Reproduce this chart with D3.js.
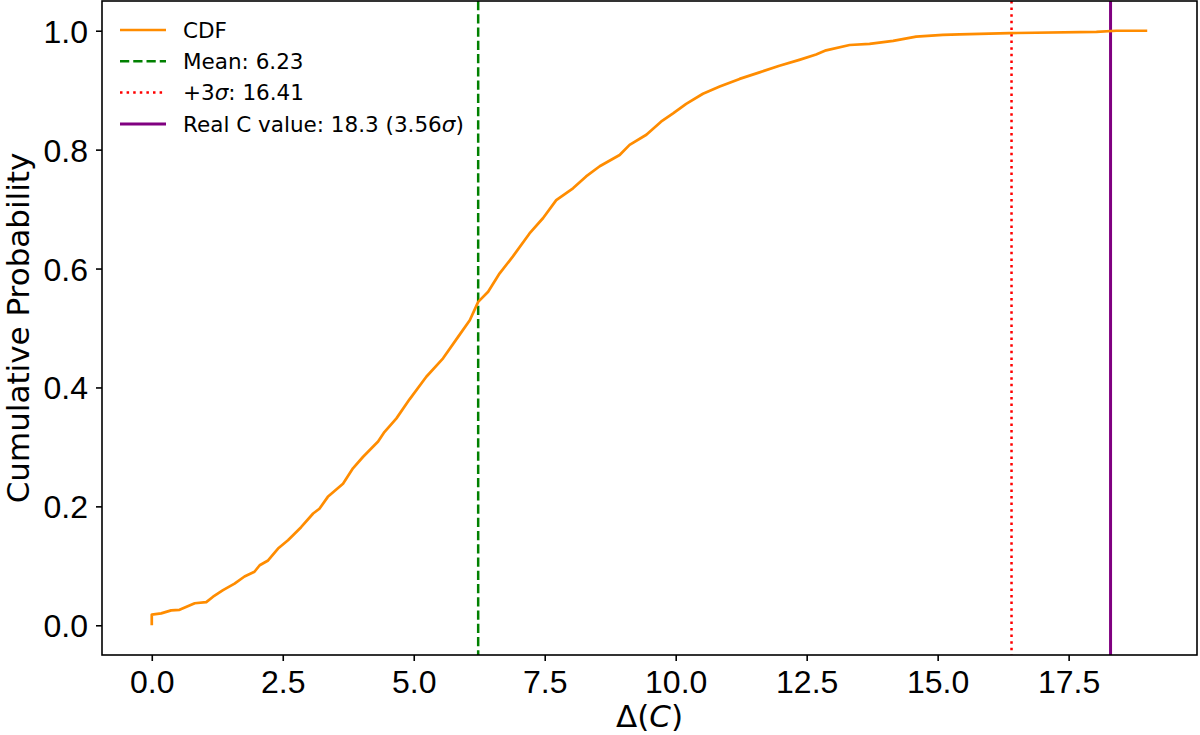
<!DOCTYPE html>
<html>
<head>
<meta charset="utf-8">
<script src="https://cdn.jsdelivr.net/npm/d3@7"></script>
<style>
  body { margin: 0; background: #fff; }
  svg { display: block; font-family: "DejaVu Sans", sans-serif; }
  .axis text { font-size: 32px; fill: #000; }
  .axis path, .axis line { stroke: #000; stroke-width: 1.6; }
  .legendText { font-size: 21.5px; fill: #000; }
</style>
</head>
<body>
<div id="chart"></div>
<script>
const cdfX = [0, 0, 0.18, 0.37, 0.53, 0.82, 1.04, 1.17, 1.36, 1.58, 1.77, 1.96, 2.06, 2.22, 2.41, 2.60,
  2.85, 3.08, 3.20, 3.36, 3.65, 3.84, 4.03, 4.32, 4.44, 4.67, 4.92, 5.24, 5.56, 5.87, 6.07, 6.23,
  6.42, 6.64, 6.89, 7.21, 7.47, 7.72, 8.04, 8.29, 8.55, 8.93, 9.12, 9.44, 9.72, 9.95, 10.20, 10.52,
  10.84, 11.22, 11.60, 11.98, 12.36, 12.68, 12.87, 13.32, 13.70, 14.15, 14.59, 15.10, 15.42, 16.37,
  18.03, 18.41, 19.0];
const cdfY = [0, 0.018, 0.020, 0.025, 0.026, 0.037, 0.039, 0.048, 0.059, 0.070, 0.082, 0.090, 0.101, 0.109, 0.129, 0.143,
  0.165, 0.188, 0.196, 0.216, 0.238, 0.264, 0.283, 0.309, 0.325, 0.348, 0.380, 0.418, 0.449, 0.488, 0.513, 0.544,
  0.561, 0.592, 0.620, 0.659, 0.685, 0.715, 0.735, 0.755, 0.772, 0.791, 0.808, 0.825, 0.847, 0.861, 0.877, 0.894,
  0.906, 0.919, 0.930, 0.941, 0.951, 0.960, 0.967, 0.976, 0.978, 0.983, 0.990, 0.993, 0.994, 0.996,
  0.998, 1.0, 1.0];

const meanValue = 6.23;
const sigma3Value = 16.41;
const realCValue = 18.3;
const realCSigma = 3.56;

const xTicks = [0, 2.5, 5, 7.5, 10, 12.5, 15, 17.5];
const yTicks = [0, 0.2, 0.4, 0.6, 0.8, 1.0];

const W = 1200, H = 735;
const margin = {top: 1, right: 3, bottom: 80, left: 102},
      width = W - margin.left - margin.right,
      height = H - margin.top - margin.bottom;

const svg = d3.select('#chart').append('svg')
    .attr('width', W)
    .attr('height', H);

const g = svg.append('g')
    .attr('transform', `translate(${margin.left},${margin.top})`);

// matplotlib style 5% margins
const xMin = d3.min(cdfX), xMax = d3.max(cdfX);
const xPad = (xMax - xMin) * 0.05;
const xScale = d3.scaleLinear()
    .domain([xMin - xPad, xMax + xPad])
    .range([0, width]);
const yScale = d3.scaleLinear()
    .domain([-0.05, 1.05])
    .range([height, 0]);

const xAxis = d3.axisBottom(xScale)
    .tickValues(xTicks)
    .tickFormat(d3.format('.1f'))
    .tickSizeInner(6).tickSizeOuter(0).tickPadding(9);
const yAxis = d3.axisLeft(yScale)
    .tickValues(yTicks)
    .tickFormat(d3.format('.1f'))
    .tickSizeInner(6).tickSizeOuter(0).tickPadding(8);

g.append('g')
    .attr('class', 'axis axis--x')
    .attr('transform', `translate(0,${height})`)
    .call(xAxis)
    .call(a => a.select('.domain').remove());

g.append('g')
    .attr('class', 'axis axis--y')
    .call(yAxis)
    .call(a => a.select('.domain').remove())
    .selectAll('text').attr('dy', '0.36em');

// vertical reference lines
g.append('line')
    .attr('x1', xScale(meanValue)).attr('x2', xScale(meanValue))
    .attr('y1', 0).attr('y2', height)
    .attr('stroke', '#008000').attr('stroke-width', 2.5)
    .attr('stroke-dasharray', '9.25,4');

g.append('line')
    .attr('x1', xScale(sigma3Value)).attr('x2', xScale(sigma3Value))
    .attr('y1', 0).attr('y2', height)
    .attr('stroke', '#ff0000').attr('stroke-width', 2.5)
    .attr('stroke-dasharray', '2.5,4.1');

g.append('line')
    .attr('x1', xScale(realCValue)).attr('x2', xScale(realCValue))
    .attr('y1', 0).attr('y2', height)
    .attr('stroke', '#800080').attr('stroke-width', 3);

// CDF curve
const cdfData = cdfX.map((x, i) => ({x: x, y: cdfY[i]}));
const line = d3.line()
    .x(d => xScale(d.x))
    .y(d => yScale(d.y));

g.append('path')
    .datum(cdfData)
    .attr('d', line)
    .attr('fill', 'none')
    .attr('stroke', '#ff8c00')
    .attr('stroke-width', 2.7)
    .attr('stroke-linejoin', 'round');

// frame
g.append('rect')
    .attr('width', width).attr('height', height)
    .attr('fill', 'none')
    .attr('stroke', '#000').attr('stroke-width', 1.6);

// axis labels
const xLabel = svg.append('text')
    .attr('x', margin.left + width / 2)
    .attr('y', 727)
    .attr('text-anchor', 'middle')
    .attr('font-size', '31px');
xLabel.append('tspan').text('Δ(');
xLabel.append('tspan').attr('font-style', 'italic').text('C');
xLabel.append('tspan').text(')');

svg.append('text')
    .attr('transform', `translate(29,${margin.top + height / 2}) rotate(-90)`)
    .attr('text-anchor', 'middle')
    .attr('font-size', '31px')
    .text('Cumulative Probability');

// legend
const legendItems = [
  {color: '#ff8c00', dash: null, width: 2.7, parts: [['CDF', false]]},
  {color: '#008000', dash: '9.25,4', width: 2.5, parts: [['Mean: ' + meanValue.toFixed(2), false]]},
  {color: '#ff0000', dash: '2.5,4.1', width: 2.5, parts: [['+3', false], ['σ', true], [': ' + sigma3Value.toFixed(2), false]]},
  {color: '#800080', dash: null, width: 3, parts: [['Real C value: ' + realCValue + ' (' + realCSigma.toFixed(2), false], ['σ', true], [')', false]]}
];

const legend = svg.append('g').attr('class', 'legend');
legendItems.forEach((d, i) => {
  const y = 30 + i * 31.3;
  legend.append('line')
      .attr('x1', 120).attr('x2', 166)
      .attr('y1', y).attr('y2', y)
      .attr('stroke', d.color)
      .attr('stroke-width', d.width)
      .attr('stroke-dasharray', d.dash);
  const t = legend.append('text')
      .attr('class', 'legendText')
      .attr('x', 183)
      .attr('y', y + 7.7);
  d.parts.forEach(p => {
    t.append('tspan').attr('font-style', p[1] ? 'italic' : null).text(p[0]);
  });
});
</script>
</body>
</html>
